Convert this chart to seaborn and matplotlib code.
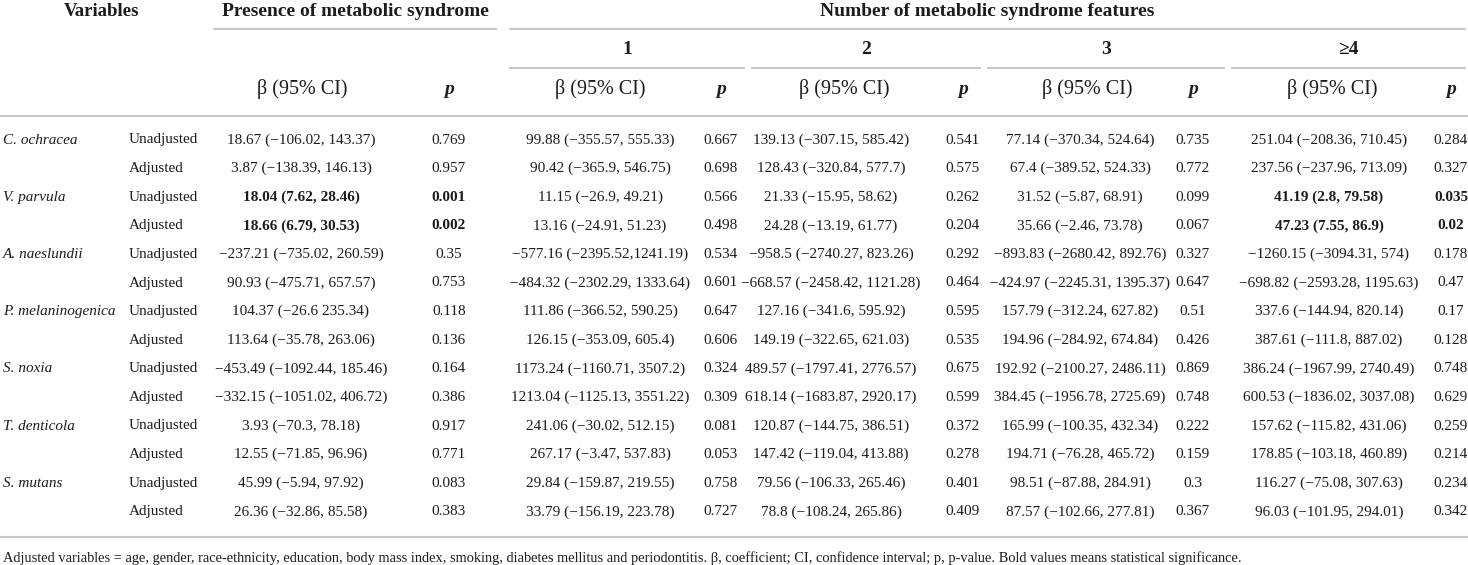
import matplotlib
matplotlib.use("Agg")
import matplotlib.pyplot as plt
import seaborn as sns

# --- data ---
species = ["C. ochracea", "V. parvula", "A. naeslundii", "P. melaninogenica",
           "S. noxia", "T. denticola", "S. mutans"]
models = ["Unadjusted", "Adjusted"]

presence_beta = [
    "18.67 (−106.02, 143.37)", "3.87 (−138.39, 146.13)",
    "18.04 (7.62, 28.46)", "18.66 (6.79, 30.53)",
    "−237.21 (−735.02, 260.59)", "90.93 (−475.71, 657.57)",
    "104.37 (−26.6 235.34)", "113.64 (−35.78, 263.06)",
    "−453.49 (−1092.44, 185.46)", "−332.15 (−1051.02, 406.72)",
    "3.93 (−70.3, 78.18)", "12.55 (−71.85, 96.96)",
    "45.99 (−5.94, 97.92)", "26.36 (−32.86, 85.58)",
]
presence_p = ["0.769", "0.957", "0.001", "0.002", "0.35", "0.753", "0.118",
              "0.136", "0.164", "0.386", "0.917", "0.771", "0.083", "0.383"]

feat1_beta = [
    "99.88 (−355.57, 555.33)", "90.42 (−365.9, 546.75)",
    "11.15 (−26.9, 49.21)", "13.16 (−24.91, 51.23)",
    "−577.16 (−2395.52,1241.19)", "−484.32 (−2302.29, 1333.64)",
    "111.86 (−366.52, 590.25)", "126.15 (−353.09, 605.4)",
    "1173.24 (−1160.71, 3507.2)", "1213.04 (−1125.13, 3551.22)",
    "241.06 (−30.02, 512.15)", "267.17 (−3.47, 537.83)",
    "29.84 (−159.87, 219.55)", "33.79 (−156.19, 223.78)",
]
feat1_p = ["0.667", "0.698", "0.566", "0.498", "0.534", "0.601", "0.647",
           "0.606", "0.324", "0.309", "0.081", "0.053", "0.758", "0.727"]

feat2_beta = [
    "139.13 (−307.15, 585.42)", "128.43 (−320.84, 577.7)",
    "21.33 (−15.95, 58.62)", "24.28 (−13.19, 61.77)",
    "−958.5 (−2740.27, 823.26)", "−668.57 (−2458.42, 1121.28)",
    "127.16 (−341.6, 595.92)", "149.19 (−322.65, 621.03)",
    "489.57 (−1797.41, 2776.57)", "618.14 (−1683.87, 2920.17)",
    "120.87 (−144.75, 386.51)", "147.42 (−119.04, 413.88)",
    "79.56 (−106.33, 265.46)", "78.8 (−108.24, 265.86)",
]
feat2_p = ["0.541", "0.575", "0.262", "0.204", "0.292", "0.464", "0.595",
           "0.535", "0.675", "0.599", "0.372", "0.278", "0.401", "0.409"]

feat3_beta = [
    "77.14 (−370.34, 524.64)", "67.4 (−389.52, 524.33)",
    "31.52 (−5.87, 68.91)", "35.66 (−2.46, 73.78)",
    "−893.83 (−2680.42, 892.76)", "−424.97 (−2245.31, 1395.37)",
    "157.79 (−312.24, 627.82)", "194.96 (−284.92, 674.84)",
    "192.92 (−2100.27, 2486.11)", "384.45 (−1956.78, 2725.69)",
    "165.99 (−100.35, 432.34)", "194.71 (−76.28, 465.72)",
    "98.51 (−87.88, 284.91)", "87.57 (−102.66, 277.81)",
]
feat3_p = ["0.735", "0.772", "0.099", "0.067", "0.327", "0.647", "0.51",
           "0.426", "0.869", "0.748", "0.222", "0.159", "0.3", "0.367"]

feat4_beta = [
    "251.04 (−208.36, 710.45)", "237.56 (−237.96, 713.09)",
    "41.19 (2.8, 79.58)", "47.23 (7.55, 86.9)",
    "−1260.15 (−3094.31, 574)", "−698.82 (−2593.28, 1195.63)",
    "337.6 (−144.94, 820.14)", "387.61 (−111.8, 887.02)",
    "386.24 (−1967.99, 2740.49)", "600.53 (−1836.02, 3037.08)",
    "157.62 (−115.82, 431.06)", "178.85 (−103.18, 460.89)",
    "116.27 (−75.08, 307.63)", "96.03 (−101.95, 294.01)",
]
feat4_p = ["0.284", "0.327", "0.035", "0.02", "0.178", "0.47", "0.17",
           "0.128", "0.748", "0.629", "0.259", "0.214", "0.234", "0.342"]

feature_labels = ["1", "2", "3", "≥4"]
# (row index, column group) of the statistically significant cells
bold_cells = [(2, 0), (3, 0), (2, 4), (3, 4)]

footnote = ("Adjusted variables = age, gender, race-ethnicity, education, body mass index, "
            "smoking, diabetes mellitus and periodontitis. β, coefficient; CI, confidence "
            "interval; p, p-value. Bold values means statistical significance.")

groups = [(presence_beta, presence_p), (feat1_beta, feat1_p), (feat2_beta, feat2_p),
          (feat3_beta, feat3_p), (feat4_beta, feat4_p)]

# --- layout (pixel space) ---
W, H = 1468, 565
beta_x = [301, 600, 831, 1080, 1329]
beta_head_x = [302, 600, 844, 1087, 1332]
p_x = [449, 721, 963, 1193, 1451]
feat_spans = [(509, 745), (751, 981), (987, 1225), (1231, 1466)]
row_y0, row_step = 140, 28.6

sns.set_theme(style="white")
plt.rcParams["font.family"] = ["Liberation Serif", "DejaVu Serif"]
ink = "#1e1b1c"
rule = "#c8c8c8"

fig = plt.figure(figsize=(W / 100, H / 100), dpi=100)
ax = fig.add_axes([0, 0, 1, 1])
ax.set_xlim(0, W)
ax.set_ylim(H, 0)
ax.axis("off")

hs = 14
bs = 11
# header row 1
ax.text(102, 11, "Variables", ha="center", va="center", fontsize=13.5, fontweight="bold", color=ink)
ax.text(355, 11, "Presence of metabolic syndrome", ha="center", va="center",
        fontsize=hs, fontweight="bold", color=ink)
ax.text(987, 11, "Number of metabolic syndrome features", ha="center", va="center",
        fontsize=hs, fontweight="bold", color=ink)
ax.plot([213, 497], [29, 29], color=rule, lw=1.5, solid_capstyle="butt")
ax.plot([509, 1466], [29, 29], color=rule, lw=1.5, solid_capstyle="butt")

# header row 2
for lab, (x0, x1) in zip(feature_labels, feat_spans):
    ax.text((x0 + x1) / 2, 50, lab, ha="center", va="center", fontsize=hs,
            fontweight="bold", color=ink)
    ax.plot([x0, x1], [68, 68], color=rule, lw=1.5, solid_capstyle="butt")

# header row 3
for bx, px in zip(beta_head_x, p_x):
    ax.text(bx, 89, "β (95% CI)", ha="center", va="center", fontsize=14.5, color=ink)
    ax.text(px, 89, "p", ha="center", va="center", fontsize=hs, fontweight="bold",
            fontstyle="italic", color=ink)
ax.plot([0, W], [116, 116], color=rule, lw=1.5, solid_capstyle="butt")

# body
for i in range(len(species) * 2):
    y = row_y0 + i * row_step
    if i % 2 == 0:
        ax.text(3, y, species[i // 2], ha="left", va="center", fontsize=bs,
                fontstyle="italic", color=ink)
    ax.text(129, y, models[i % 2], ha="left", va="center", fontsize=bs, color=ink)
    for g, (betas, ps) in enumerate(groups):
        w = "bold" if (i, g) in bold_cells else "normal"
        ax.text(beta_x[g], y, betas[i], ha="center", va="center", fontsize=bs,
                fontweight=w, color=ink)
        ax.text(p_x[g], y, ps[i], ha="center", va="center", fontsize=bs,
                fontweight=w, color=ink)

ax.plot([0, W], [537, 537], color=rule, lw=1.5, solid_capstyle="butt")
ax.text(3, 558, footnote, ha="left", va="center", fontsize=10.4, color=ink)

fig.savefig("out.png", dpi=100)
